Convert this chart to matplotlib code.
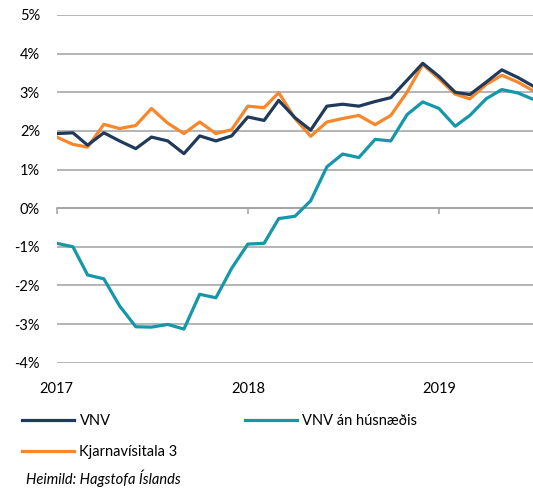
import numpy as np
import pandas as pd
import matplotlib
matplotlib.use("Agg")
from matplotlib import pyplot as plt
from matplotlib.ticker import FuncFormatter

plt.rcParams['font.family'] = ['Lato', 'DejaVu Sans']

# monthly, Jan 2017 - Jul 2019
months = pd.date_range("2017-01-01", periods=31, freq="MS")

vnv = [1.93, 1.95, 1.63, 1.95, 1.74, 1.54, 1.84, 1.74, 1.41, 1.87, 1.74, 1.87,
       2.36, 2.27, 2.79, 2.34, 2.02, 2.64, 2.69, 2.64, 2.76, 2.86, 3.31, 3.75,
       3.41, 3.00, 2.94, 3.26, 3.58, 3.38, 3.15]
vnv_an_husn = [-0.91, -1.00, -1.73, -1.83, -2.53, -3.07, -3.08, -3.01, -3.13, -2.23, -2.32, -1.56,
               -0.93, -0.91, -0.27, -0.21, 0.19, 1.07, 1.40, 1.31, 1.78, 1.74, 2.42, 2.75,
               2.58, 2.12, 2.40, 2.83, 3.07, 2.98, 2.81]
kjarna3 = [1.84, 1.65, 1.58, 2.17, 2.06, 2.14, 2.58, 2.20, 1.93, 2.23, 1.93, 2.03,
           2.64, 2.60, 2.99, 2.32, 1.86, 2.23, 2.32, 2.40, 2.16, 2.40, 3.00, 3.72,
           3.35, 2.95, 2.83, 3.20, 3.44, 3.26, 3.03]

labels = ["VNV", "Kjarnavísitala 3", "VNV án húsnæðis"]
colors = ["#203a5b", "#f8862a", "#1497a9"]
year_ticks = pd.to_datetime(["2017-01-01", "2018-01-01", "2019-01-01"])
fs = 10.5

fig = plt.figure(figsize=(5.33, 4.96), dpi=100)
ax = fig.add_axes([0.1064, 0.2688, 0.895, 0.701])

l1, = ax.plot(months, vnv, color=colors[0], lw=2.3, zorder=4)
l3, = ax.plot(months, vnv_an_husn, color=colors[2], lw=2.3, zorder=3)
l2, = ax.plot(months, kjarna3, color=colors[1], lw=2.3, zorder=3.5)

ax.set_xlim(months[0], months[-1])
ax.set_ylim(-4, 5)
ax.set_yticks(np.arange(-4, 6, 1))
ax.yaxis.set_major_formatter(FuncFormatter(lambda v, p: f"{v:.0f}%"))
ax.tick_params(axis="y", length=0, pad=12, labelsize=fs, colors="#000000")
ax.grid(axis="y", color="#a0a0a0", lw=1.1)
ax.set_axisbelow(True)

for s in ["top", "right", "left"]:
    ax.spines[s].set_visible(False)
ax.spines["bottom"].set_position(("data", 0))
ax.spines["bottom"].set_color("#a0a0a0")
ax.spines["bottom"].set_linewidth(1.1)

# year labels sit at the bottom of the plot, ticks stay on the 0% line
ax.set_xticks(year_ticks)
ax.tick_params(axis="x", direction="out", length=4, width=1.1, color="#a0a0a0", labelbottom=False)
for d in year_ticks:
    ax.text(d, -0.055, d.strftime("%Y"), transform=ax.get_xaxis_transform(),
            ha="center", va="top", fontsize=fs)

fig.legend([l1, l2, l3], labels, ncol=2, loc="upper left", bbox_to_anchor=(0.041, 0.166),
           frameon=False, fontsize=fs, handlelength=3.55, handletextpad=0.4,
           columnspacing=4.6, labelspacing=1.2, borderaxespad=0, borderpad=0)

fig.text(0.049, 0.036, "Heimild: Hagstofa Íslands", fontsize=fs, style="italic",
         ha="left", va="center")

fig.savefig("out.png", dpi=100)
